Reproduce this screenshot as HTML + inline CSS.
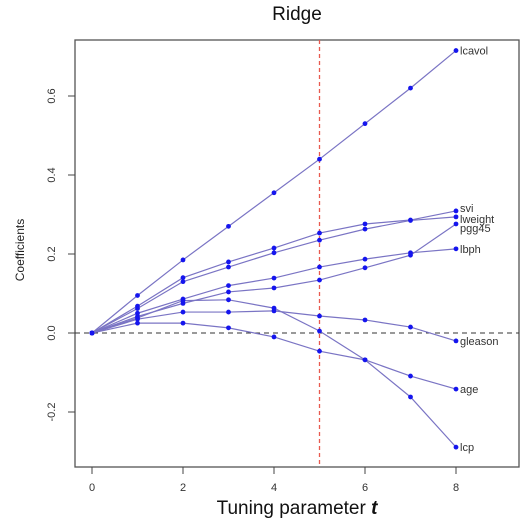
<!DOCTYPE html>
<html><head><meta charset="utf-8"><style>
body{margin:0;background:#fff;}
svg{display:block;font-family:"Liberation Sans",sans-serif;}
</style></head><body>
<svg id="chart" width="523" height="520">
<text x="297" y="20" font-size="19" text-anchor="middle" fill="#111">Ridge</text>
<rect x="75" y="40" width="444" height="427" fill="none" stroke="#555" stroke-width="1.3"/>
<text x="297" y="514" font-size="19" text-anchor="middle" fill="#111">Tuning parameter <tspan font-weight="bold" font-style="italic">t</tspan></text>
<text transform="translate(24,250) rotate(-90)" font-size="12" text-anchor="middle" fill="#222">Coefficients</text>
<g id="axes"></g><g id="series"></g>
</svg>
<script>
const tValues=[0,1,2,3,4,5,6,7,8];
const seriesNames=["lcavol","svi","lweight","pgg45","lbph","gleason","age","lcp"];
const lcavol=[0,0.095,0.185,0.27,0.355,0.44,0.53,0.62,0.715];
const svi=[0,0.068,0.14,0.18,0.215,0.253,0.276,0.286,0.309];
const lweight=[0,0.062,0.13,0.167,0.203,0.235,0.263,0.285,0.294];
const pgg45=[0,0.042,0.075,0.104,0.114,0.134,0.165,0.197,0.276];
const lbph=[0,0.05,0.086,0.12,0.139,0.167,0.187,0.203,0.213];
const gleason=[0,0.035,0.053,0.053,0.056,0.043,0.033,0.015,-0.02];
const age=[0,0.025,0.025,0.013,-0.01,-0.046,-0.068,-0.109,-0.142];
const lcp=[0,0.038,0.082,0.084,0.063,0.005,-0.068,-0.162,-0.289];
const xTicks=[0,2,4,6,8];
const yTicks=[-0.2,0,0.2,0.4,0.6];
const yTickLabels=["-0.2","0.0","0.2","0.4","0.6"];
const chosenT=5;
const labelOffsets={lcavol:0,svi:-3,lweight:2,pgg45:4,lbph:0,gleason:0,age:0,lcp:0};

const X=t=>92+t*45.5;
const Y=v=>333-v*395;
const NS="http://www.w3.org/2000/svg";
const axes=document.getElementById('axes');
const ser=document.getElementById('series');
function mk(tag,attrs,parent){const e=document.createElementNS(NS,tag);for(const k in attrs)e.setAttribute(k,attrs[k]);parent.appendChild(e);return e;}

xTicks.forEach(t=>{
  const l=mk('line',{x1:X(t),x2:X(t),y1:467,y2:474,stroke:'#444'},axes);
  
  
  const tx=mk('text',{x:X(t),y:491,'font-size':11,'text-anchor':'middle',fill:'#333'},axes);
  tx.textContent=t;
  
  
});
yTicks.forEach((v,i)=>{
  const l=mk('line',{x1:68,x2:75,y1:Y(v),y2:Y(v),stroke:'#444'},axes);
  
  
  const tx=mk('text',{transform:`translate(55,${Y(v)}) rotate(-90)`,'font-size':11,'text-anchor':'middle',fill:'#333'},axes);
  tx.textContent=yTickLabels[i];
  
  
});
const zl=mk('line',{x1:75,x2:519,y1:Y(0),y2:Y(0),stroke:'#333','stroke-dasharray':'5,4'},axes);


const rl=mk('line',{x1:X(chosenT),x2:X(chosenT),y1:40,y2:467,stroke:'#e85a4f','stroke-width':1.3,'stroke-dasharray':'4,3'},axes);



const data={lcavol,svi,lweight,pgg45,lbph,gleason,age,lcp};
seriesNames.forEach(n=>{
  const vals=data[n];
  const g=mk('g',{},ser);
  
  
  const p=mk('polyline',{points:tValues.map((t,i)=>X(t)+','+Y(vals[i])).join(' '),fill:'none',stroke:'#7a74c4','stroke-width':1.2},g);
  
  
  tValues.forEach((t,i)=>{
    const c=mk('circle',{cx:X(t),cy:Y(vals[i]),r:2.4,fill:'#1515ee'},g);
    
    
  });
  const tx=mk('text',{x:X(8)+4,y:Y(vals[vals.length-1])+4+labelOffsets[n],'font-size':11,fill:'#333'},g);
  tx.textContent=n;
  
  
});
</script>
</body></html>
